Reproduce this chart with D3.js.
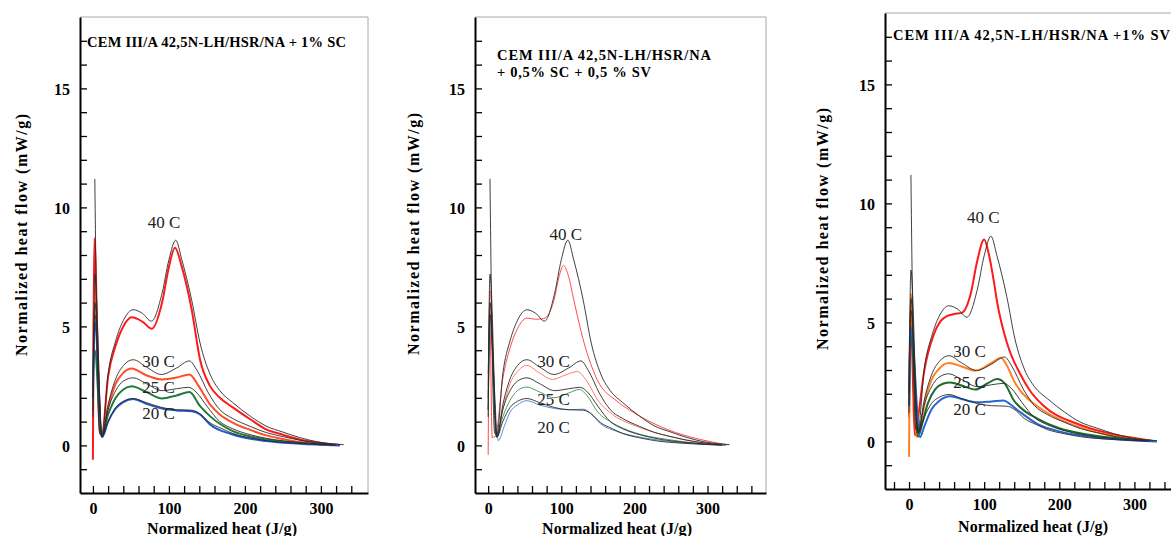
<!DOCTYPE html>
<html>
<head>
<meta charset="utf-8">
<script src="https://cdn.jsdelivr.net/npm/d3@7"></script>
<style>
  body { margin: 0; background: #fff; }
  svg { display: block; }
  text { font-family: "Liberation Serif", "Times New Roman", serif; }
</style>
</head>
<body>
<svg id="chart" width="1171" height="536"></svg>
<script>
// reference curves (plain cement), same in every panel  [heat J/g, flow mW/g]
const ref40 = [[2.5,11.2],[5,5],[9,0.5],[12,0.45],[20,3.0],[30,4.4],[40,5.25],[53,5.7],[65,5.55],[77,5.22],[91,6.4],[100,7.8],[109,8.62],[117,7.8],[130,6.1],[141,4.3],[154,3.0],[167,2.3],[184,1.8],[207,1.23],[228,0.81],[250,0.56],[272,0.33],[294,0.16],[330,0.03]];
const ref30 = [[0,2.0],[2.5,7.2],[12,0.35],[20,1.7],[30,2.8],[40,3.35],[53,3.6],[70,3.3],[90,2.98],[110,3.25],[127,3.55],[137,3.15],[152,2.2],[167,1.5],[184,1.13],[207,0.8],[228,0.54],[250,0.37],[272,0.22],[316,0.03]];
const ref25 = [[0,1.5],[2.5,6.0],[12,0.35],[20,1.5],[30,2.3],[40,2.7],[53,2.84],[70,2.6],[91,2.3],[110,2.38],[126,2.44],[137,2.2],[150,1.65],[167,1.0],[184,0.7],[207,0.45],[228,0.3],[272,0.12],[320,0.02]];
const ref20 = [[0,1.2],[2.5,5.5],[12,0.35],[20,1.0],[30,1.6],[40,1.85],[53,1.97],[70,1.8],[91,1.59],[110,1.5],[130,1.48],[140,1.35],[154,0.95],[170,0.7],[184,0.5],[207,0.32],[228,0.2],[272,0.08],[320,0.01]];

// + 1% SC
const sc40 = [[0,-0.6],[2,8.7],[9,0.5],[12,0.5],[20,2.9],[30,4.2],[40,5.0],[51,5.38],[65,5.2],[77.6,4.9],[91,6.0],[100,7.5],[108,8.3],[117,7.5],[130,5.7],[141,3.6],[154,2.5],[167,2.0],[184,1.6],[207,1.1],[228,0.67],[250,0.45],[272,0.25],[300,0.1],[325,0.02]];
const sc30 = [[0,2.5],[2.5,6.8],[11,0.4],[20,1.6],[30,2.6],[40,3.05],[51,3.23],[70,2.95],[91,2.77],[110,2.85],[127,2.98],[139,2.5],[154,1.72],[167,1.3],[184,0.96],[207,0.65],[228,0.42],[250,0.27],[272,0.14],[315,0.01]];
const sc25 = [[0,3.0],[2.5,4.0],[11,0.4],[20,1.3],[30,2.0],[40,2.35],[51,2.49],[70,2.25],[91,1.97],[110,2.1],[127,2.24],[141,1.65],[154,1.23],[184,0.6],[207,0.38],[228,0.25],[272,0.1],[320,0.02]];
const sc20 = [[0,2.0],[2.5,5.2],[12,0.35],[20,1.0],[30,1.55],[40,1.82],[53,1.95],[70,1.75],[91,1.55],[110,1.47],[130,1.43],[141,1.3],[154,0.88],[184,0.46],[228,0.18],[272,0.07],[325,0]];

// + 0,5% SC + 0,5% SV
const mix40 = [[0,-0.4],[2,6.0],[5.5,0.33],[10,0.4],[20,2.8],[30,4.1],[40,4.9],[53,5.35],[65,5.3],[76,5.33],[90,6.1],[97,7.1],[103,7.56],[110,7.1],[117,6.13],[131,4.33],[149,2.77],[176,1.86],[199,1.38],[245,0.67],[290,0.25],[327,0.03]];
const mix30 = [[0,2.5],[2.5,6.5],[11,0.35],[20,1.5],[30,2.6],[40,3.1],[52.5,3.36],[70,3.05],[88,2.77],[105,2.95],[122,3.1],[135,2.7],[150,1.9],[170,1.3],[199,0.85],[245,0.4],[290,0.12],[325,0.01]];
const mix25 = [[0,3.0],[2.5,5.5],[11,0.35],[20,1.2],[30,1.9],[40,2.3],[52.5,2.45],[70,2.25],[90,2.0],[110,2.2],[125,2.35],[135,2.1],[150,1.4],[170,0.95],[199,0.55],[245,0.25],[290,0.08],[325,0.01]];
const mix20 = [[0,1.5],[2.5,5.0],[14,0.2],[22,0.8],[30,1.4],[40,1.7],[53,1.88],[70,1.7],[91,1.55],[110,1.5],[131,1.52],[140,1.35],[154,0.9],[175,0.6],[199,0.4],[245,0.18],[290,0.06],[325,0]];

// + 1% SV
const sv40 = [[0,1.0],[2,5.35],[8,0.25],[12,1.0],[19.6,2.84],[33,4.5],[42,5.05],[50.7,5.27],[60,5.35],[70.7,5.41],[82,6.19],[90.7,7.57],[100,8.48],[106,7.9],[113,6.7],[117,5.9],[130.7,4.1],[148,2.83],[161,2.13],[179,1.5],[223.6,0.74],[268,0.32],[312,0.08],[325,0.01]];
const sv30 = [[0,-0.65],[2.5,6.2],[10,0.2],[15,0.6],[22,1.8],[30,2.6],[40,3.05],[53,3.29],[70,3.15],[88.4,2.97],[105,3.2],[122.7,3.5],[130,3.2],[139.6,2.55],[148,2.13],[161,1.72],[179,1.3],[223.6,0.63],[268,0.25],[325,0.02]];
const sv25 = [[0,2.0],[2.5,4.5],[12,0.2],[18,0.8],[25,1.6],[35,2.2],[45,2.42],[55,2.48],[70,2.35],[88,2.18],[105,2.45],[117,2.62],[127,2.45],[139.6,1.72],[155,1.25],[170.7,0.96],[200,0.55],[240,0.28],[280,0.12],[325,0.02]];
const sv20 = [[0,1.5],[2.5,4.8],[14.7,0.18],[20,0.6],[30,1.35],[40,1.7],[55,1.9],[70,1.78],[90.7,1.64],[110,1.68],[126,1.72],[135,1.55],[148,1.23],[170.7,0.74],[200,0.42],[240,0.2],[280,0.08],[330,0]];

const tempLabels = ['40 C', '30 C', '25 C', '20 C'];
const titles = [
  ['CEM III/A 42,5N-LH/HSR/NA + 1% SC'],
  ['CEM III/A 42,5N-LH/HSR/NA', '+ 0,5% SC + 0,5 % SV'],
  ['CEM III/A 42,5N-LH/HSR/NA +1% SV']
];
// label anchors in data units, per panel
const labelSpots = [
  [[72,9.4],[65,3.55],[65,2.44],[65,1.34]],
  [[84,8.87],[67,3.54],[67,1.93],[67,0.77]],
  [[77,9.41],[59,3.81],[59,2.48],[59,1.37]]
];

const refs = [ref40, ref30, ref25, ref20];

const panels = [
  { left: 80, top: 17, right: 368, bottom: 493, xDomain: [-17, 362], xTickMax: 340,
    curves: [sc40, sc30, sc25, sc20], colors: ['#ff1a1a', '#ff4d2a', '#217a3c', '#2458c4'], width: 2,
    titleX: 87, titleY: 42, titleLen: [259], yLab: [21, 235], xLab: [222, 528] },
  { left: 475, top: 17, right: 766, bottom: 493, xDomain: [-18, 380], xTickMax: 360,
    curves: [mix40, mix30, mix25, mix20], colors: ['#ff4a4a', '#ff7a6a', '#4f9d6c', '#5b8fd9'], width: 1,
    titleX: 497, titleY: 55, titleLen: [214, 154], yLab: [413, 234], xLab: [617, 528] },
  { left: 885, top: 13, right: 1187, bottom: 489, xDomain: [-32, 370], xTickMax: 360,
    curves: [sv40, sv30, sv25, sv20], colors: ['#ff1a1a', '#ff8022', '#1d6a2c', '#2a66d0'], width: 2,
    titleX: 893, titleY: 35, titleLen: [277], yLab: [822, 229], xLab: [1033, 526] }
];

const svg = d3.select('#chart');

panels.forEach((p, i) => {
  const x = d3.scaleLinear().domain(p.xDomain).range([p.left, p.right]);
  const y = d3.scaleLinear().domain([-2, 18]).range([p.bottom, p.top]);
  const g = svg.append('g');

  // box (thin grey top/right)
  g.append('path')
    .attr('d', `M${p.left},${p.top}H${p.right}V${p.bottom}`)
    .attr('fill', 'none').attr('stroke', '#a8a8a8').attr('stroke-width', 1);

  const clipId = 'clip' + i;
  svg.append('clipPath').attr('id', clipId).append('rect')
    .attr('x', p.left).attr('y', p.top).attr('width', p.right - p.left).attr('height', p.bottom - p.top);

  const line = d3.line().x(d => x(d[0])).y(d => y(d[1])).curve(d3.curveMonotoneX);
  const plot = g.append('g').attr('clip-path', `url(#${clipId})`);

  p.curves.forEach((c, k) => {
    plot.append('path').datum(c).attr('d', line)
      .attr('fill', 'none').attr('stroke', p.colors[k]).attr('stroke-width', p.width)
      .attr('stroke-linejoin', 'round');
  });
  refs.forEach(c => {
    plot.append('path').datum(c).attr('d', line)
      .attr('fill', 'none').attr('stroke', '#2a2a2a').attr('stroke-width', 0.9);
  });

  // axes, ticks pointing inward
  const yAxis = d3.axisLeft(y)
    .tickValues(d3.range(-1, 18, 1))
    .tickSizeInner(-7).tickSizeOuter(0).tickPadding(10)
    .tickFormat(d => d % 5 === 0 ? d : '');
  const yg = g.append('g').attr('transform', `translate(${p.left},0)`).call(yAxis);

  const xAxis = d3.axisBottom(x)
    .tickValues(d3.range(Math.ceil(p.xDomain[0] / 20) * 20, p.xTickMax + 1, 20))
    .tickSizeInner(-7).tickSizeOuter(0).tickPadding(10)
    .tickFormat(d => d % 100 === 0 && d >= 0 ? d : '');
  const xg = g.append('g').attr('transform', `translate(0,${p.bottom})`).call(xAxis);

  [yg, xg].forEach(a => {
    a.select('.domain').attr('stroke', '#000').attr('stroke-width', 2);
    a.selectAll('.tick line').attr('stroke', '#000').attr('stroke-width', 1.3);
    a.selectAll('.tick text')
      .attr('font-family', '"Liberation Serif", "Times New Roman", serif')
      .attr('font-size', 16).attr('font-weight', 'bold').attr('fill', '#000');
  });
  yg.selectAll('.tick text').attr('dy', '0.35em');

  // titles
  titles[i].forEach((t, j) => {
    g.append('text')
      .attr('x', p.titleX).attr('y', p.titleY + j * 17)
      .attr('dy', '0.35em')
      .attr('font-size', 14.5).attr('font-weight', 'bold')
      .attr('textLength', p.titleLen[j]).attr('lengthAdjust', 'spacing')
      .text(t);
  });

  // temperature labels
  tempLabels.forEach((t, k) => {
    g.append('text')
      .attr('x', x(labelSpots[i][k][0])).attr('y', y(labelSpots[i][k][1]))
      .attr('dy', '0.35em')
      .attr('font-size', 17).attr('fill', '#222')
      .text(t);
  });

  // axis titles
  g.append('text')
    .attr('transform', `translate(${p.yLab[0]},${p.yLab[1]}) rotate(-90)`)
    .attr('text-anchor', 'middle').attr('dy', '0.35em')
    .attr('font-size', 16).attr('font-weight', 'bold')
    .attr('textLength', 242).attr('lengthAdjust', 'spacing')
    .text('Normalized heat flow (mW/g)');

  g.append('text')
    .attr('x', p.xLab[0]).attr('y', p.xLab[1])
    .attr('text-anchor', 'middle').attr('dy', '0.35em')
    .attr('font-size', 16).attr('font-weight', 'bold')
    .attr('textLength', 150).attr('lengthAdjust', 'spacing')
    .text('Normalized heat (J/g)');
});
</script>
</body>
</html>
